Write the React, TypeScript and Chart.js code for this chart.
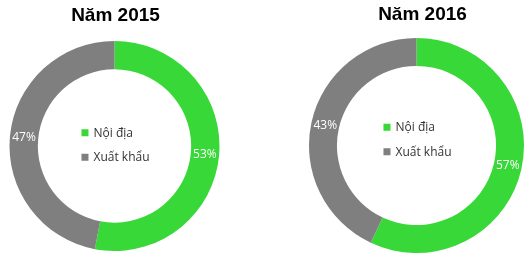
import React, { useEffect, useRef } from 'react';
import { Chart, registerables } from 'chart.js';

Chart.register(...registerables);

const categories = ['Nội địa', 'Xuất khẩu'];
const titles = ['Năm 2015', 'Năm 2016'];
const values2015 = [53, 47];
const values2016 = [57, 43];
const sliceColors = ['#38D838', '#7F7F7F'];

const donutDecor = {
  id: 'donutDecor',
  afterDatasetsDraw(chart: any, _args: any, opts: any) {
    const ctx = chart.ctx;
    const meta = chart.getDatasetMeta(0);
    const arcs = meta.data;
    if (!arcs.length) return;
    const cx = arcs[0].x;
    const cy = arcs[0].y;
    const ds = chart.data.datasets[0];
    const total = ds.data.reduce((a: number, b: number) => a + b, 0);
    ctx.save();
    // percentage labels
    ctx.font = '12px "Open Sans"';
    ctx.fillStyle = '#ffffff';
    ctx.textAlign = 'center';
    ctx.textBaseline = 'middle';
    arcs.forEach((arc: any, i: number) => {
      const p = arc.tooltipPosition();
      ctx.fillText(Math.round((ds.data[i] / total) * 100) + '%', p.x, p.y);
    });
    // center legend
    const labels: string[] = chart.data.labels;
    ctx.font = '12px "Open Sans"';
    const box = 7;
    const gap = 5;
    const maxW = Math.max(...labels.map((l) => ctx.measureText(l).width));
    const startX = cx - (box + gap + maxW) / 2 + 1;
    const rowH = 24.5;
    const y0 = cy + opts.legendDy - rowH / 2;
    labels.forEach((l, i) => {
      const y = y0 + i * rowH;
      ctx.fillStyle = ds.backgroundColor[i];
      ctx.fillRect(startX, y - box / 2, box, box);
      ctx.fillStyle = '#333333';
      ctx.textAlign = 'left';
      ctx.textBaseline = 'middle';
      ctx.fillText(l, startX + box + gap, y + 0.5);
    });
    // title
    ctx.font = 'bold 19px "Liberation Sans"';
    ctx.fillStyle = '#000000';
    ctx.textAlign = 'center';
    ctx.textBaseline = 'alphabetic';
    ctx.fillText(opts.title, cx + opts.titleDx, opts.titleBaseline);
    ctx.restore();
  },
};

type DonutProps = {
  values: number[];
  title: string;
  left: number;
  width: number;
  padTop: number;
  padBottom: number;
  cutout: string;
  legendDy: number;
  titleDx: number;
  titleBaseline: number;
};

function Donut(p: DonutProps) {
  const ref = useRef<HTMLCanvasElement | null>(null);
  useEffect(() => {
    if (!ref.current) return;
    const chart = new Chart(ref.current, {
      type: 'doughnut',
      data: {
        labels: categories,
        datasets: [
          {
            data: p.values,
            backgroundColor: sliceColors,
            borderWidth: 0,
          },
        ],
      },
      options: {
        responsive: false,
        animation: false,
        cutout: p.cutout,
        layout: { padding: { top: p.padTop, bottom: p.padBottom, left: 0, right: 0 } },
        plugins: {
          legend: { display: false },
          tooltip: { enabled: false },
          title: { display: false },
          donutDecor: {
            legendDy: p.legendDy,
            title: p.title,
            titleDx: p.titleDx,
            titleBaseline: p.titleBaseline,
          },
        } as any,
      },
      plugins: [donutDecor],
    });
    return () => chart.destroy();
  }, []);
  return (
    <canvas
      ref={ref}
      width={p.width}
      height={259}
      style={{ position: 'absolute', left: p.left, top: 0, width: p.width, height: 259 }}
    />
  );
}

export default function App() {
  useEffect(() => {
    document.body.style.margin = '0';
  }, []);
  return (
    <div style={{ position: 'relative', width: 531, height: 259, background: '#ffffff' }}>
      <Donut
        values={values2015}
        title={titles[0]}
        left={0}
        width={229}
        padTop={41}
        padBottom={8}
        cutout="73%"
        legendDy={-1}
        titleDx={1}
        titleBaseline={21}
      />
      <Donut
        values={values2016}
        title={titles[1]}
        left={306}
        width={221}
        padTop={38}
        padBottom={6}
        cutout="74%"
        legendDy={-6}
        titleDx={6}
        titleBaseline={20}
      />
    </div>
  );
}
